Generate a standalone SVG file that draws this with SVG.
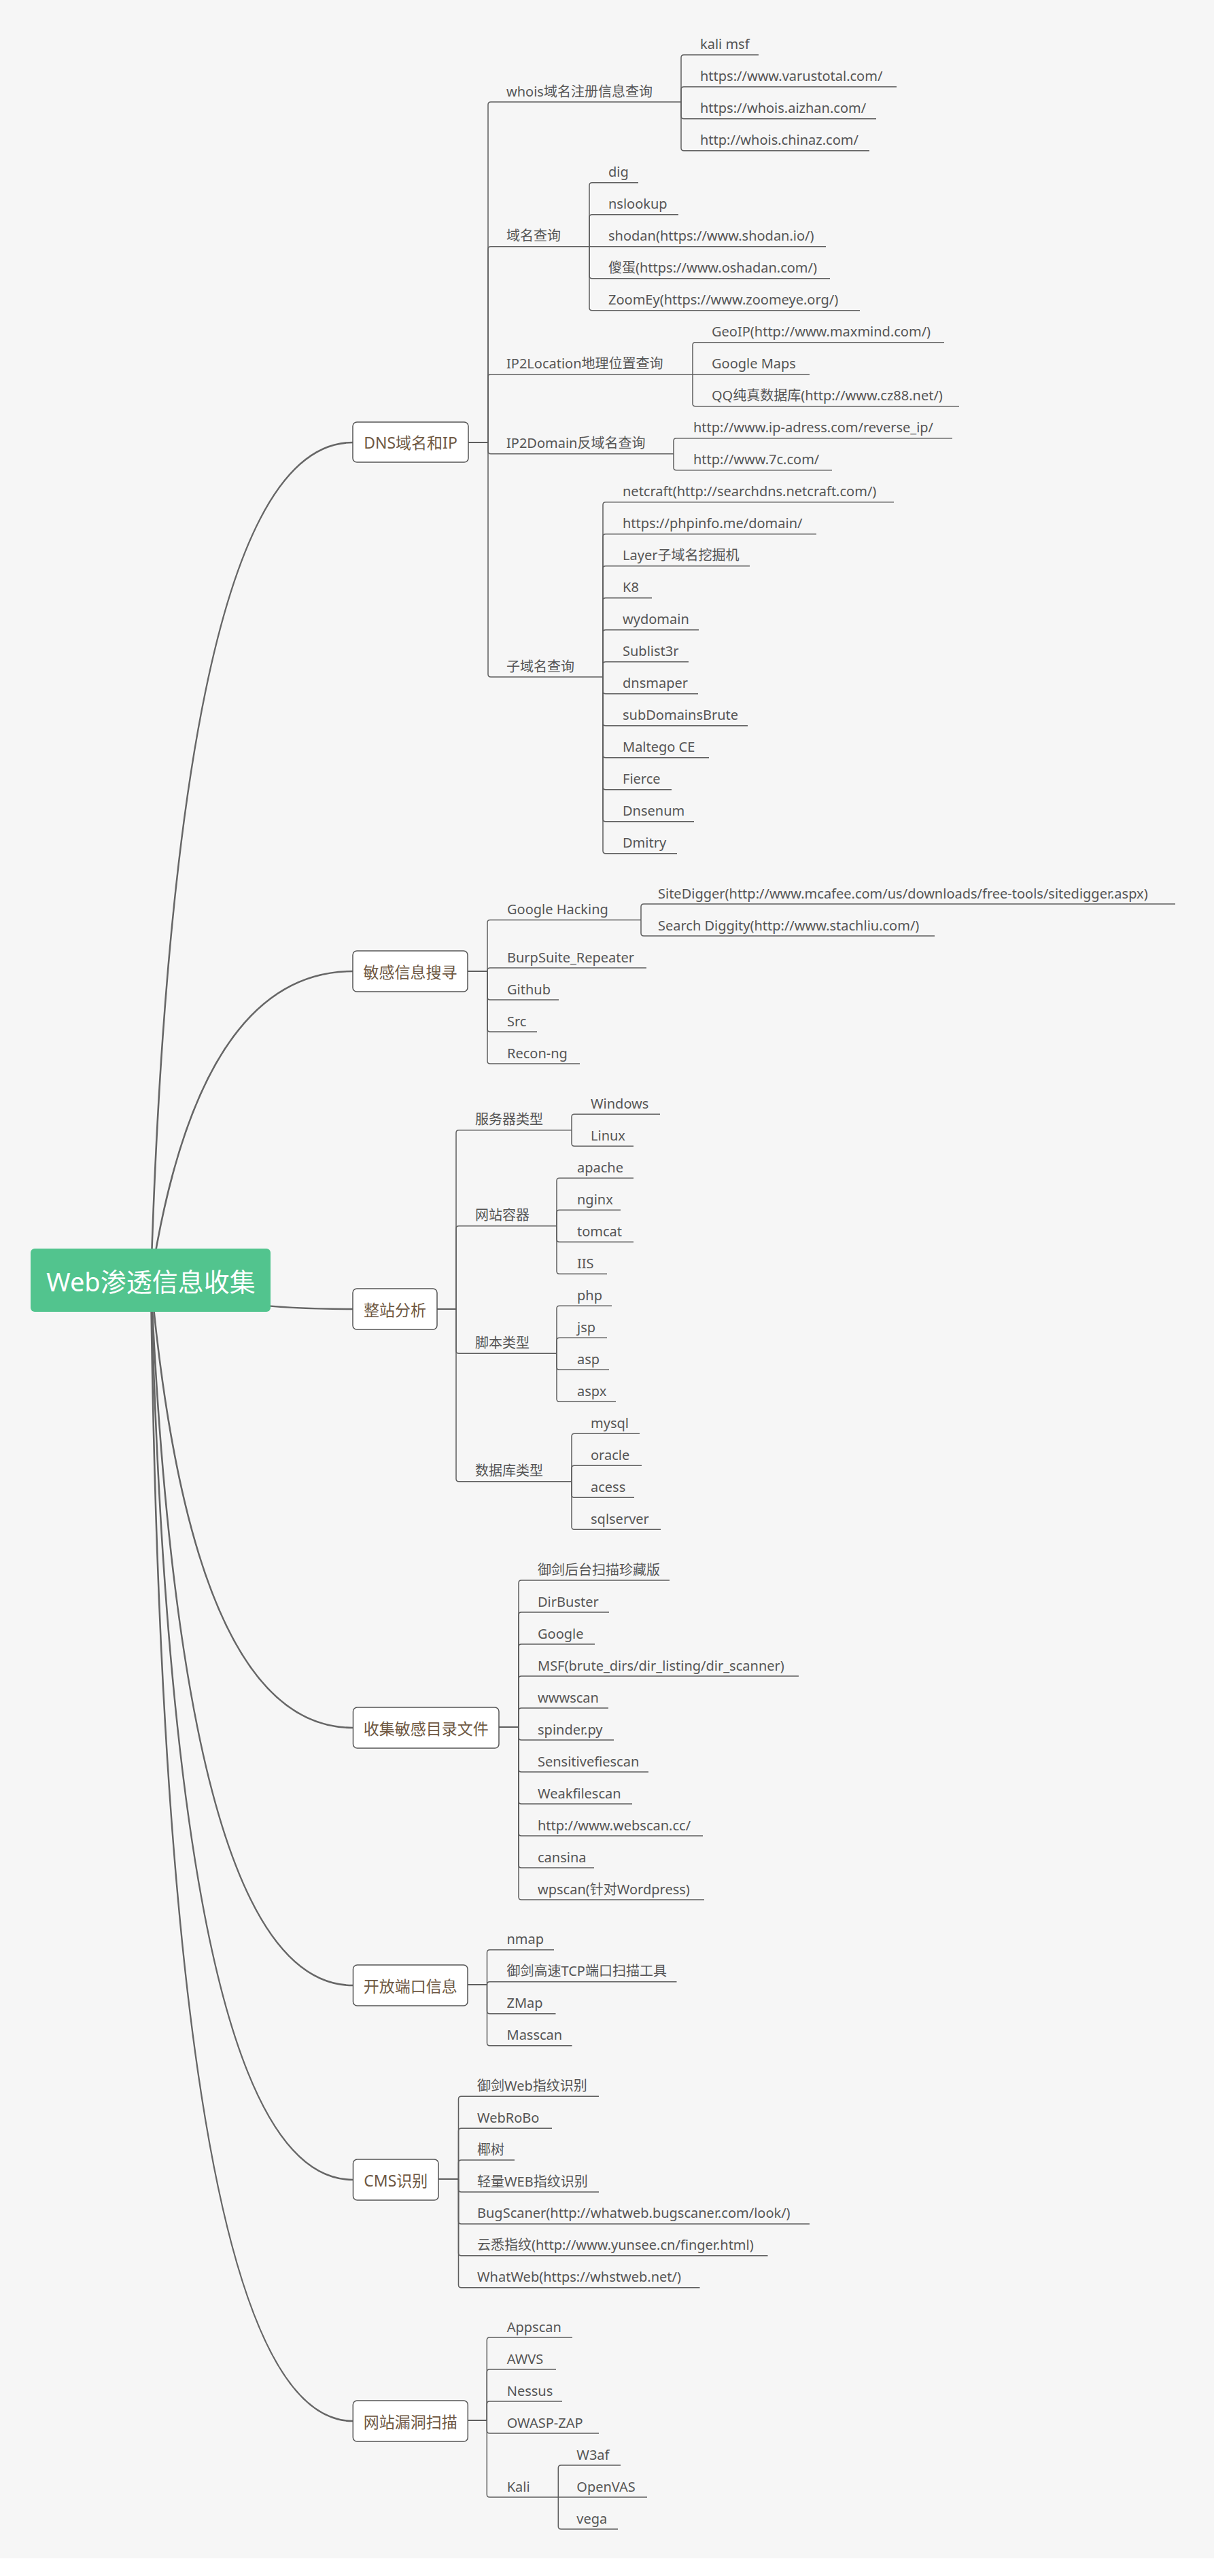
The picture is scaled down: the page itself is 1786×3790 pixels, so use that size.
<svg xmlns="http://www.w3.org/2000/svg" width="1786" height="3790" viewBox="0 0 1786 3790">
<style>
.l{fill:none;stroke:#5e5e5e;stroke-width:1.5}
.k{fill:none;stroke:#5e5e5e;stroke-width:2}
.c{fill:none;stroke:#666;stroke-width:2.6;stroke-linecap:round}
text{font-family:"Noto Sans","Noto Sans CJK SC",sans-serif}
.t{font-size:20px;fill:#555}
.nb{fill:#fff;stroke:#555;stroke-width:1.5}
.nt{font-size:23px;fill:#6e5843;text-anchor:middle}
.rb{fill:#52c48e}
.rt{font-size:38px;fill:#fff;text-anchor:middle}
</style>
<rect x="0" y="0" width="1786" height="3790" fill="#ffffff"/>
<rect x="0" y="0" width="1786" height="3764" fill="#f6f6f6"/>
<g id="connectors">
<!-- root curves -->
<path class="c" d="M222,1883 Q260,651 519,651"/>
<path class="c" d="M222,1883 Q292,1429 519,1429"/>
<path class="c" d="M222,1883 Q309,1926 519,1926"/>
<path class="c" d="M222,1883 Q282,2542 519,2542"/>
<path class="c" d="M222,1883 Q268,2921 519,2921"/>
<path class="c" d="M222,1883 Q256,3207 519,3207"/>
<path class="c" d="M222,1883 Q242,3562 519,3562"/>
<!-- DNS -->
<path class="k" d="M689,651 H718"/>
<path class="l" d="M718,651 V154 Q718,150 722,150 H1002"/>
<path class="l" d="M718,651 V366.7 Q718,362.7 722,362.7 H867"/>
<path class="l" d="M718,651 V554.7 Q718,550.7 722,550.7 H1019"/>
<path class="l" d="M718,651 V663.7 Q718,667.7 722,667.7 H991"/>
<path class="l" d="M718,651 V992 Q718,996 722,996 H887"/>
<path class="l" d="M1002,150 V84.7 Q1002,80.7 1006,80.7 H1116"/>
<path class="l" d="M1002,150 V131.7 Q1002,127.7 1006,127.7 H1319"/>
<path class="l" d="M1002,150 V170.7 Q1002,174.7 1006,174.7 H1289"/>
<path class="l" d="M1002,150 V217.7 Q1002,221.7 1006,221.7 H1279"/>
<path class="l" d="M867,362.7 V272.7 Q867,268.7 871,268.7 H939"/>
<path class="l" d="M867,362.7 V319.7 Q867,315.7 871,315.7 H998"/>
<path class="l" d="M867,362.7 H1215"/>
<path class="l" d="M867,362.7 V405.7 Q867,409.7 871,409.7 H1221"/>
<path class="l" d="M867,362.7 V452.7 Q867,456.7 871,456.7 H1265"/>
<path class="l" d="M1019,550.7 V507.7 Q1019,503.7 1023,503.7 H1389"/>
<path class="l" d="M1019,550.7 H1191"/>
<path class="l" d="M1019,550.7 V593.7 Q1019,597.7 1023,597.7 H1411"/>
<path class="l" d="M991,667.7 V648.7 Q991,644.7 995,644.7 H1401"/>
<path class="l" d="M991,667.7 V687.7 Q991,691.7 995,691.7 H1224"/>
<path class="l" d="M887,996 V742.7 Q887,738.7 891,738.7 H1315"/>
<path class="l" d="M887,996 V789.7 Q887,785.7 891,785.7 H1201"/>
<path class="l" d="M887,996 V836.7 Q887,832.7 891,832.7 H1103"/>
<path class="l" d="M887,996 V883.7 Q887,879.7 891,879.7 H959"/>
<path class="l" d="M887,996 V930.7 Q887,926.7 891,926.7 H1028"/>
<path class="l" d="M887,996 V977.7 Q887,973.7 891,973.7 H1013"/>
<path class="l" d="M887,996 V1016.7 Q887,1020.7 891,1020.7 H1027"/>
<path class="l" d="M887,996 V1063.7 Q887,1067.7 891,1067.7 H1100"/>
<path class="l" d="M887,996 V1110.7 Q887,1114.7 891,1114.7 H1043"/>
<path class="l" d="M887,996 V1157.7 Q887,1161.7 891,1161.7 H988"/>
<path class="l" d="M887,996 V1204.7 Q887,1208.7 891,1208.7 H1021"/>
<path class="l" d="M887,996 V1251.7 Q887,1255.7 891,1255.7 H996"/>
<!-- 敏感信息搜寻 -->
<path class="k" d="M688,1429 H717"/>
<path class="l" d="M717,1429 V1357.5 Q717,1353.5 721,1353.5 H943"/>
<path class="l" d="M717,1429 V1428 Q717,1424 721,1424 H951"/>
<path class="l" d="M717,1429 V1467 Q717,1471 721,1471 H822"/>
<path class="l" d="M717,1429 V1514 Q717,1518 721,1518 H790"/>
<path class="l" d="M717,1429 V1561 Q717,1565 721,1565 H853"/>
<path class="l" d="M943,1353.5 V1334 Q943,1330 947,1330 H1729"/>
<path class="l" d="M943,1353.5 V1373 Q943,1377 947,1377 H1375"/>
<!-- 整站分析 -->
<path class="k" d="M643,1926 H671"/>
<path class="l" d="M671,1926 V1666.8 Q671,1662.8 675,1662.8 H841"/>
<path class="l" d="M671,1926 V1807.8 Q671,1803.8 675,1803.8 H819"/>
<path class="l" d="M671,1926 V1987.3 Q671,1991.3 675,1991.3 H819"/>
<path class="l" d="M671,1926 V2175.8 Q671,2179.8 675,2179.8 H841"/>
<path class="l" d="M841,1662.8 V1643.3 Q841,1639.3 845,1639.3 H971"/>
<path class="l" d="M841,1662.8 V1682.3 Q841,1686.3 845,1686.3 H932"/>
<path class="l" d="M819,1803.8 V1737.3 Q819,1733.3 823,1733.3 H932"/>
<path class="l" d="M819,1803.8 V1784.3 Q819,1780.3 823,1780.3 H913"/>
<path class="l" d="M819,1803.8 V1823.3 Q819,1827.3 823,1827.3 H932"/>
<path class="l" d="M819,1803.8 V1870.3 Q819,1874.3 823,1874.3 H893"/>
<path class="l" d="M819,1991.3 V1925.3 Q819,1921.3 823,1921.3 H900"/>
<path class="l" d="M819,1991.3 V1972.3 Q819,1968.3 823,1968.3 H893"/>
<path class="l" d="M819,1991.3 V2011.3 Q819,2015.3 823,2015.3 H896"/>
<path class="l" d="M819,1991.3 V2058.3 Q819,2062.3 823,2062.3 H906"/>
<path class="l" d="M841,2179.8 V2113.3 Q841,2109.3 845,2109.3 H941"/>
<path class="l" d="M841,2179.8 V2160.3 Q841,2156.3 845,2156.3 H944"/>
<path class="l" d="M841,2179.8 V2199.3 Q841,2203.3 845,2203.3 H933"/>
<path class="l" d="M841,2179.8 V2246.3 Q841,2250.3 845,2250.3 H972"/>
<!-- 收集敏感目录文件 -->
<path class="k" d="M734,2541 H763"/>
<path class="l" d="M763,2541 V2329 Q763,2325 767,2325 H985"/>
<path class="l" d="M763,2541 V2376 Q763,2372 767,2372 H896"/>
<path class="l" d="M763,2541 V2423 Q763,2419 767,2419 H875"/>
<path class="l" d="M763,2541 V2470 Q763,2466 767,2466 H1175"/>
<path class="l" d="M763,2541 V2517 Q763,2513 767,2513 H895"/>
<path class="l" d="M763,2541 V2556 Q763,2560 767,2560 H903"/>
<path class="l" d="M763,2541 V2603 Q763,2607 767,2607 H954"/>
<path class="l" d="M763,2541 V2650 Q763,2654 767,2654 H930"/>
<path class="l" d="M763,2541 V2697 Q763,2701 767,2701 H1034"/>
<path class="l" d="M763,2541 V2744 Q763,2748 767,2748 H874"/>
<path class="l" d="M763,2541 V2791 Q763,2795 767,2795 H1036"/>
<!-- 开放端口信息 -->
<path class="k" d="M688,2920 H716.5"/>
<path class="l" d="M716.5,2920 V2872.7 Q716.5,2868.7 720.5,2868.7 H815"/>
<path class="l" d="M716.5,2920 V2919.7 Q716.5,2915.7 720.5,2915.7 H995.5"/>
<path class="l" d="M716.5,2920 V2958.7 Q716.5,2962.7 720.5,2962.7 H817.5"/>
<path class="l" d="M716.5,2920 V3005.7 Q716.5,3009.7 720.5,3009.7 H841.5"/>
<!-- CMS识别 -->
<path class="k" d="M645,3206 H674.5"/>
<path class="l" d="M674.5,3206 V3088.3 Q674.5,3084.3 678.5,3084.3 H881"/>
<path class="l" d="M674.5,3206 V3135.2 Q674.5,3131.2 678.5,3131.2 H812"/>
<path class="l" d="M674.5,3206 V3182.1 Q674.5,3178.1 678.5,3178.1 H757"/>
<path class="l" d="M674.5,3206 V3221 Q674.5,3225 678.5,3225 H881"/>
<path class="l" d="M674.5,3206 V3267.9 Q674.5,3271.9 678.5,3271.9 H1191"/>
<path class="l" d="M674.5,3206 V3314.8 Q674.5,3318.8 678.5,3318.8 H1129.5"/>
<path class="l" d="M674.5,3206 V3361.7 Q674.5,3365.7 678.5,3365.7 H1029.5"/>
<!-- 网站漏洞扫描 -->
<path class="k" d="M688.3,3561 H716.3"/>
<path class="l" d="M716.3,3561 V3443 Q716.3,3439 720.3,3439 H842"/>
<path class="l" d="M716.3,3561 V3490 Q716.3,3486 720.3,3486 H818"/>
<path class="l" d="M716.3,3561 V3537 Q716.3,3533 720.3,3533 H827"/>
<path class="l" d="M716.3,3561 V3576 Q716.3,3580 720.3,3580 H881"/>
<path class="l" d="M716.3,3561 V3670 Q716.3,3674 720.3,3674 H821.3"/>
<path class="l" d="M821.3,3674 V3631 Q821.3,3627 825.3,3627 H913"/>
<path class="l" d="M821.3,3674 H952"/>
<path class="l" d="M821.3,3674 V3717 Q821.3,3721 825.3,3721 H909"/>
</g>
<g id="root">
<rect class="rb" x="45" y="1837" width="353" height="93" rx="6"/>
<text class="rt" x="222" y="1900">Web渗透信息收集</text>
</g>
<g id="n-dns">
<rect class="nb" x="519" y="621" width="170" height="59" rx="6"/>
<text class="nt" x="604" y="660">DNS域名和IP</text>
</g>
<g id="n-dns-whois"><text class="t" x="745" y="141.5">whois域名注册信息查询</text></g>
<g id="n-dns-whois-1"><text class="t" x="1030" y="72.2">kali msf</text></g>
<g id="n-dns-whois-2"><text class="t" x="1030" y="119.2">https://www.varustotal.com/</text></g>
<g id="n-dns-whois-3"><text class="t" x="1030" y="166.2">https://whois.aizhan.com/</text></g>
<g id="n-dns-whois-4"><text class="t" x="1030" y="213.2">http://whois.chinaz.com/</text></g>
<g id="n-dns-domain"><text class="t" x="745" y="354.2">域名查询</text></g>
<g id="n-dns-domain-1"><text class="t" x="895" y="260.2">dig</text></g>
<g id="n-dns-domain-2"><text class="t" x="895" y="307.2">nslookup</text></g>
<g id="n-dns-domain-3"><text class="t" x="895" y="354.2">shodan(https://www.shodan.io/)</text></g>
<g id="n-dns-domain-4"><text class="t" x="895" y="401.2">傻蛋(https://www.oshadan.com/)</text></g>
<g id="n-dns-domain-5"><text class="t" x="895" y="448.2">ZoomEy(https://www.zoomeye.org/)</text></g>
<g id="n-dns-ip2loc"><text class="t" x="745" y="542.2">IP2Location地理位置查询</text></g>
<g id="n-dns-ip2loc-1"><text class="t" x="1047" y="495.2">GeoIP(http://www.maxmind.com/)</text></g>
<g id="n-dns-ip2loc-2"><text class="t" x="1047" y="542.2">Google Maps</text></g>
<g id="n-dns-ip2loc-3"><text class="t" x="1047" y="589.2">QQ纯真数据库(http://www.cz88.net/)</text></g>
<g id="n-dns-ip2dom"><text class="t" x="745" y="659.2">IP2Domain反域名查询</text></g>
<g id="n-dns-ip2dom-1"><text class="t" x="1020" y="636.2">http://www.ip-adress.com/reverse_ip/</text></g>
<g id="n-dns-ip2dom-2"><text class="t" x="1020" y="683.2">http://www.7c.com/</text></g>
<g id="n-dns-sub"><text class="t" x="745" y="987.5">子域名查询</text></g>
<g id="n-dns-sub-1"><text class="t" x="916" y="730.2">netcraft(http://searchdns.netcraft.com/)</text></g>
<g id="n-dns-sub-2"><text class="t" x="916" y="777.2">https://phpinfo.me/domain/</text></g>
<g id="n-dns-sub-3"><text class="t" x="916" y="824.2">Layer子域名挖掘机</text></g>
<g id="n-dns-sub-4"><text class="t" x="916" y="871.2">K8</text></g>
<g id="n-dns-sub-5"><text class="t" x="916" y="918.2">wydomain</text></g>
<g id="n-dns-sub-6"><text class="t" x="916" y="965.2">Sublist3r</text></g>
<g id="n-dns-sub-7"><text class="t" x="916" y="1012.2">dnsmaper</text></g>
<g id="n-dns-sub-8"><text class="t" x="916" y="1059.2">subDomainsBrute</text></g>
<g id="n-dns-sub-9"><text class="t" x="916" y="1106.2">Maltego CE</text></g>
<g id="n-dns-sub-10"><text class="t" x="916" y="1153.2">Fierce</text></g>
<g id="n-dns-sub-11"><text class="t" x="916" y="1200.2">Dnsenum</text></g>
<g id="n-dns-sub-12"><text class="t" x="916" y="1247.2">Dmitry</text></g>
<g id="n-sens">
<rect class="nb" x="519" y="1399" width="169" height="60" rx="6"/>
<text class="nt" x="603.5" y="1438.5">敏感信息搜寻</text>
</g>
<g id="n-sens-gh"><text class="t" x="746" y="1345">Google Hacking</text></g>
<g id="n-sens-gh-1"><text class="t" x="968" y="1321.5">SiteDigger(http://www.mcafee.com/us/downloads/free-tools/sitedigger.aspx)</text></g>
<g id="n-sens-gh-2"><text class="t" x="968" y="1368.5">Search Diggity(http://www.stachliu.com/)</text></g>
<g id="n-sens-2"><text class="t" x="746" y="1415.5">BurpSuite_Repeater</text></g>
<g id="n-sens-3"><text class="t" x="746" y="1462.5">Github</text></g>
<g id="n-sens-4"><text class="t" x="746" y="1509.5">Src</text></g>
<g id="n-sens-5"><text class="t" x="746" y="1556.5">Recon-ng</text></g>
<g id="n-site">
<rect class="nb" x="519" y="1896" width="124" height="60" rx="6"/>
<text class="nt" x="581" y="1935.5">整站分析</text>
</g>
<g id="n-site-server"><text class="t" x="699" y="1654.3">服务器类型</text></g>
<g id="n-site-server-1"><text class="t" x="869" y="1630.8">Windows</text></g>
<g id="n-site-server-2"><text class="t" x="869" y="1677.8">Linux</text></g>
<g id="n-site-web"><text class="t" x="699" y="1795.3">网站容器</text></g>
<g id="n-site-web-1"><text class="t" x="849" y="1724.8">apache</text></g>
<g id="n-site-web-2"><text class="t" x="849" y="1771.8">nginx</text></g>
<g id="n-site-web-3"><text class="t" x="849" y="1818.8">tomcat</text></g>
<g id="n-site-web-4"><text class="t" x="849" y="1865.8">IIS</text></g>
<g id="n-site-script"><text class="t" x="699" y="1982.8">脚本类型</text></g>
<g id="n-site-script-1"><text class="t" x="849" y="1912.8">php</text></g>
<g id="n-site-script-2"><text class="t" x="849" y="1959.8">jsp</text></g>
<g id="n-site-script-3"><text class="t" x="849" y="2006.8">asp</text></g>
<g id="n-site-script-4"><text class="t" x="849" y="2053.8">aspx</text></g>
<g id="n-site-db"><text class="t" x="699" y="2171.3">数据库类型</text></g>
<g id="n-site-db-1"><text class="t" x="869" y="2100.8">mysql</text></g>
<g id="n-site-db-2"><text class="t" x="869" y="2147.8">oracle</text></g>
<g id="n-site-db-3"><text class="t" x="869" y="2194.8">acess</text></g>
<g id="n-site-db-4"><text class="t" x="869" y="2241.8">sqlserver</text></g>
<g id="n-dir">
<rect class="nb" x="519.5" y="2512" width="214.5" height="60" rx="6"/>
<text class="nt" x="626.75" y="2551.5">收集敏感目录文件</text>
</g>
<g id="n-dir-1"><text class="t" x="791" y="2316.5">御剑后台扫描珍藏版</text></g>
<g id="n-dir-2"><text class="t" x="791" y="2363.5">DirBuster</text></g>
<g id="n-dir-3"><text class="t" x="791" y="2410.5">Google</text></g>
<g id="n-dir-4"><text class="t" x="791" y="2457.5">MSF(brute_dirs/dir_listing/dir_scanner)</text></g>
<g id="n-dir-5"><text class="t" x="791" y="2504.5">wwwscan</text></g>
<g id="n-dir-6"><text class="t" x="791" y="2551.5">spinder.py</text></g>
<g id="n-dir-7"><text class="t" x="791" y="2598.5">Sensitivefiescan</text></g>
<g id="n-dir-8"><text class="t" x="791" y="2645.5">Weakfilescan</text></g>
<g id="n-dir-9"><text class="t" x="791" y="2692.5">http://www.webscan.cc/</text></g>
<g id="n-dir-10"><text class="t" x="791" y="2739.5">cansina</text></g>
<g id="n-dir-11"><text class="t" x="791" y="2786.5">wpscan(针对Wordpress)</text></g>
<g id="n-port">
<rect class="nb" x="519.5" y="2891" width="168.5" height="60" rx="6"/>
<text class="nt" x="603.75" y="2930.5">开放端口信息</text>
</g>
<g id="n-port-1"><text class="t" x="745.5" y="2860.2">nmap</text></g>
<g id="n-port-2"><text class="t" x="745.5" y="2907.2">御剑高速TCP端口扫描工具</text></g>
<g id="n-port-3"><text class="t" x="745.5" y="2954.2">ZMap</text></g>
<g id="n-port-4"><text class="t" x="745.5" y="3001.2">Masscan</text></g>
<g id="n-cms">
<rect class="nb" x="519.5" y="3177" width="125.5" height="60" rx="6"/>
<text class="nt" x="582.25" y="3216.5">CMS识别</text>
</g>
<g id="n-cms-1"><text class="t" x="702" y="3075.8">御剑Web指纹识别</text></g>
<g id="n-cms-2"><text class="t" x="702" y="3122.7">WebRoBo</text></g>
<g id="n-cms-3"><text class="t" x="702" y="3169.6">椰树</text></g>
<g id="n-cms-4"><text class="t" x="702" y="3216.5">轻量WEB指纹识别</text></g>
<g id="n-cms-5"><text class="t" x="702" y="3263.4">BugScaner(http://whatweb.bugscaner.com/look/)</text></g>
<g id="n-cms-6"><text class="t" x="702" y="3310.3">云悉指纹(http://www.yunsee.cn/finger.html)</text></g>
<g id="n-cms-7"><text class="t" x="702" y="3357.2">WhatWeb(https://whstweb.net/)</text></g>
<g id="n-vuln">
<rect class="nb" x="519.3" y="3532" width="169" height="60" rx="6"/>
<text class="nt" x="603.8" y="3571.5">网站漏洞扫描</text>
</g>
<g id="n-vuln-1"><text class="t" x="745.7" y="3430.5">Appscan</text></g>
<g id="n-vuln-2"><text class="t" x="745.7" y="3477.5">AWVS</text></g>
<g id="n-vuln-3"><text class="t" x="745.7" y="3524.5">Nessus</text></g>
<g id="n-vuln-4"><text class="t" x="745.7" y="3571.5">OWASP-ZAP</text></g>
<g id="n-vuln-kali"><text class="t" x="745.7" y="3665.5">Kali</text></g>
<g id="n-vuln-kali-1"><text class="t" x="848.3" y="3618.5">W3af</text></g>
<g id="n-vuln-kali-2"><text class="t" x="848.3" y="3665.5">OpenVAS</text></g>
<g id="n-vuln-kali-3"><text class="t" x="848.3" y="3712.5">vega</text></g>
</svg>
